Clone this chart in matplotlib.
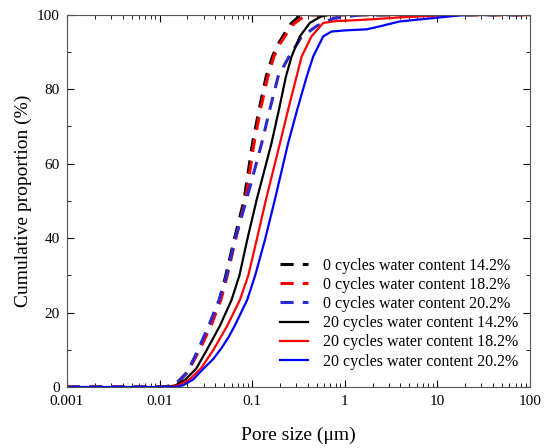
import matplotlib.pyplot as plt
from matplotlib.ticker import MultipleLocator, LogLocator, FixedFormatter, FixedLocator

plt.rcParams['font.family'] = ['Liberation Serif', 'DejaVu Serif']

# pore size (um) and cumulative proportion (%)
x_0_142 = [0.001, 0.011, 0.013, 0.016, 0.020, 0.0265, 0.035, 0.0445, 0.052, 0.064, 0.082, 0.101, 0.119, 0.142, 0.166, 0.19, 0.215, 0.26, 0.32, 0.4, 1.0, 100]
y_0_142 = [0, 0, 0.3, 1.5, 4, 9.9, 16.5, 23.4, 30, 39.5, 50.3, 65.5, 74.5, 83.4, 88.8, 92, 94.2, 97.5, 99.5, 100, 100, 100]

x_0_182 = [0.001, 0.011, 0.013, 0.016, 0.020, 0.027, 0.036, 0.046, 0.054, 0.066, 0.085, 0.105, 0.123, 0.148, 0.172, 0.198, 0.225, 0.28, 0.35, 0.45, 1.0, 100]
y_0_182 = [0, 0, 0.3, 1.5, 4, 9.9, 16.5, 23.4, 30, 39.5, 50.3, 65.5, 74.5, 83.4, 88.8, 92, 94.2, 97.5, 99.3, 100, 100, 100]

x_0_202 = [0.001, 0.011, 0.013, 0.016, 0.020, 0.026, 0.034, 0.044, 0.053, 0.065, 0.087, 0.127, 0.155, 0.191, 0.251, 0.34, 0.5, 0.75, 1.5, 100]
y_0_202 = [0, 0, 0.3, 1.5, 4, 9.9, 16.5, 23.4, 30, 39.5, 50.3, 65.5, 74.5, 83.4, 88.8, 94, 97, 99, 100, 100]

x_20_142 = [0.001, 0.012, 0.015, 0.019, 0.025, 0.0323, 0.045, 0.060, 0.073, 0.0885, 0.112, 0.162, 0.195, 0.232, 0.267, 0.328, 0.42, 0.55, 0.7, 100]
y_20_142 = [0, 0, 0.5, 2, 5, 9.9, 16.5, 23.4, 30, 39.5, 50.3, 65.5, 74.5, 83.4, 88.8, 94.2, 97.8, 99.5, 100, 100]

x_20_182 = [0.001, 0.013, 0.016, 0.021, 0.028, 0.038, 0.054, 0.0738, 0.091, 0.112, 0.141, 0.20, 0.245, 0.302, 0.343, 0.438, 0.586, 0.8, 1.2, 2.0, 4.0, 10, 20, 100]
y_20_182 = [0, 0, 0.5, 2, 5, 9.9, 16.5, 23.4, 30, 39.5, 50.3, 65.5, 74.5, 83.4, 88.8, 94.2, 97.8, 98.3, 98.5, 98.8, 99.3, 99.8, 100, 100]

x_20_202 = [0.001, 0.015, 0.018, 0.023, 0.030, 0.038, 0.0468, 0.056, 0.065, 0.0885, 0.108, 0.1375, 0.176, 0.245, 0.307, 0.389, 0.457, 0.586, 0.72, 1.0, 1.74, 2.5, 3.9, 8.9, 20.7, 100]
y_20_202 = [0, 0, 0.5, 2, 5, 7.5, 10.5, 13.5, 16.5, 23.4, 30, 39.5, 50.3, 65.5, 74.5, 83.4, 88.8, 94.2, 95.5, 95.8, 96.1, 97.0, 98.2, 99.1, 100, 100]

labels = ['0 cycles water content 14.2%', '0 cycles water content 18.2%',
          '0 cycles water content 20.2%', '20 cycles water content 14.2%',
          '20 cycles water content 18.2%', '20 cycles water content 20.2%']

fig = plt.figure(figsize=(5.44, 4.48), dpi=100)
ax = fig.add_axes([0.123, 0.136, 0.851, 0.831])

dash = (0, (4.3, 3.0))
ax.plot(x_0_142, y_0_142, color='black', ls=dash, lw=2.2, label=labels[0])
ax.plot(x_0_182, y_0_182, color='red', ls=dash, lw=2.2, label=labels[1])
ax.plot(x_0_202, y_0_202, color='#2a2ad0', ls=dash, lw=2.2, label=labels[2])
ax.plot(x_20_142, y_20_142, color='black', lw=1.6, label=labels[3])
ax.plot(x_20_182, y_20_182, color='red', lw=1.6, label=labels[4])
ax.plot(x_20_202, y_20_202, color='blue', lw=1.6, label=labels[5])

ax.set_xscale('log')
ax.set_xlim(0.001, 100)
ax.set_ylim(0, 100)
ax.xaxis.set_major_locator(FixedLocator([0.001, 0.01, 0.1, 1, 10, 100]))
ax.xaxis.set_major_formatter(FixedFormatter(['0.001', '0.01', '0.1', '1', '10', '100']))
ax.xaxis.set_minor_locator(LogLocator(base=10, subs=range(2, 10)))
ax.yaxis.set_major_locator(MultipleLocator(20))
ax.yaxis.set_minor_locator(MultipleLocator(10))
ax.tick_params(which='both', direction='in', top=True, right=True, labelsize=11)
ax.tick_params(which='major', length=5)
ax.tick_params(which='minor', length=3)
ax.tick_params(axis='x', pad=6)
ax.tick_params(axis='y', pad=5)
for s in ax.spines.values():
    s.set_color('#555555')

ax.set_xlabel('Pore size (\u03bcm)', fontsize=14, labelpad=13)
ax.set_ylabel('Cumulative proportion (%)', fontsize=14, labelpad=4)
ax.legend(loc='lower right', frameon=False, fontsize=11.5, handlelength=1.8,
          handletextpad=0.9, labelspacing=0.2, borderaxespad=0,
          bbox_to_anchor=(0.988, 0.03))

fig.savefig('out.png', dpi=100)
